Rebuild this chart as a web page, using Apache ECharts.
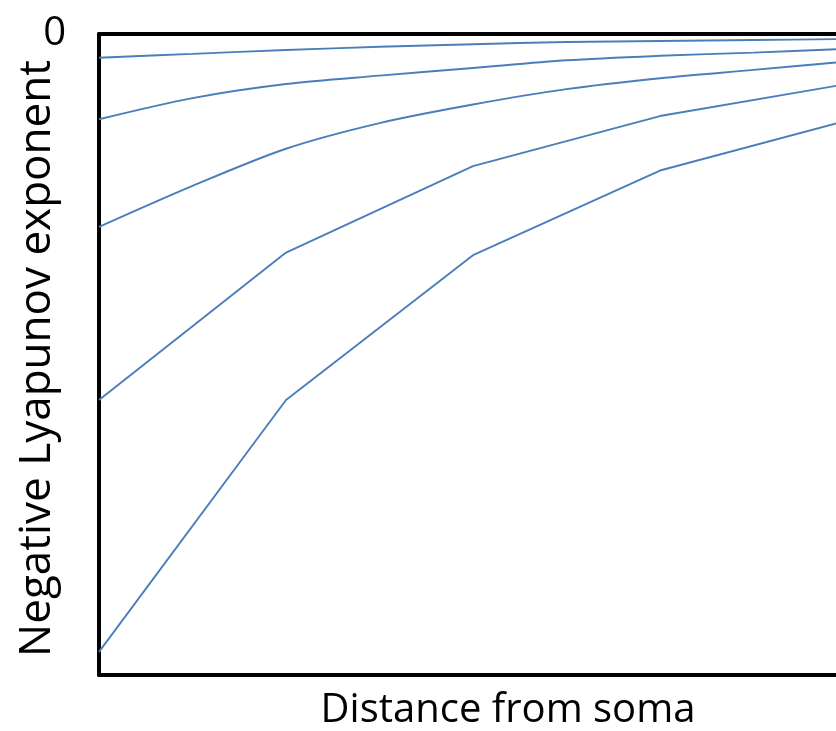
<!DOCTYPE html>
<html>
<head>
<meta charset="utf-8">
<script src="https://cdn.jsdelivr.net/npm/echarts@6/dist/echarts.min.js"></script>
<style>
html,body{margin:0;padding:0;background:#fff;}
#chart{width:836px;height:731px;}
</style>
</head>
<body>
<div id="chart"></div>
<script>
// distance steps (fine for the smooth curves, coarse for the kinked ones)
var xFine = [0, 0.5, 1, 1.5, 2, 2.5, 3, 3.5, 4];
var xCoarse = [0, 1, 2, 3, 4];

// exponent values (0 at top, more negative downwards)
var curve1 = [-3.7, -3.1, -2.5, -2.0, -1.6, -1.25, -1.1, -0.94, -0.78];
var curve2 = [-13.3, -10.0, -7.8, -6.5, -5.3, -4.1, -3.4, -2.9, -2.3];
var curve3 = [-30.1, -23.7, -17.9, -13.9, -11.0, -8.6, -6.9, -5.6, -4.3];
var curve4 = [-57.1, -34.1, -20.6, -12.8, -7.8];
var curve5 = [-96.4, -57.1, -34.5, -21.3, -13.5];

var yTicks = [0];

function pairs(xs, ys){
    return xs.map(function(x, i){ return [x, ys[i]]; });
}

var lineColor = '#4a7ebb';
var font = 'Open Sans';

var chart = echarts.init(document.getElementById('chart'));
var seriesList = [
    pairs(xFine, curve1),
    pairs(xFine, curve2),
    pairs(xFine, curve3),
    pairs(xCoarse, curve4),
    pairs(xCoarse, curve5)
].map(function(d){
    return {
        type: 'line',
        data: d,
        symbol: 'none',
        smooth: 0.3,
        lineStyle: {color: lineColor, width: 1.9},
        animation: false
    };
});
// the two lowest curves are plain polylines
seriesList[3].smooth = false;
seriesList[4].smooth = false;

var option = {
    grid: {left: 99, top: 34, width: 748, height: 641, outerBoundsMode: 'none', containLabel: false},
    xAxis: [{
        type: 'value',
        min: 0,
        max: 4,
        axisLine: {show: true, onZero: false, lineStyle: {color: '#000', width: 4}},
        axisTick: {show: false},
        axisLabel: {show: false},
        splitLine: {show: false},
        name: 'Distance from soma',
        nameLocation: 'middle',
        nameGap: 16,
        nameTextStyle: {fontFamily: font, fontSize: 40, color: '#000', padding: [0, 0, 0, 70], verticalAlign: 'top'}
    }, {
        // top border of the frame
        type: 'value',
        position: 'top',
        min: 0,
        max: 4,
        axisLine: {show: true, onZero: false, lineStyle: {color: '#000', width: 4}},
        axisTick: {show: false},
        axisLabel: {show: false},
        splitLine: {show: false}
    }],
    yAxis: {
        type: 'value',
        min: -100,
        max: 0,
        interval: 100,
        axisLine: {show: true, onZero: false, lineStyle: {color: '#000', width: 4}},
        axisTick: {show: false},
        splitLine: {show: false},
        axisLabel: {
            margin: 33,
            fontFamily: font,
            fontSize: 40,
            color: '#000',
            padding: [0, 0, 18, 0],
            formatter: function(v){ return yTicks.indexOf(v) >= 0 ? String(v) : ''; }
        },
        name: 'Negative Lyapunov exponent',
        nameLocation: 'middle',
        nameGap: 40,
        nameMoveOverlap: false,
        nameTextStyle: {fontFamily: font, fontSize: 44, color: '#000', padding: [0, 8, 0, 0]}
    },
    series: seriesList
};
chart.setOption(option);
</script>
</body>
</html>
